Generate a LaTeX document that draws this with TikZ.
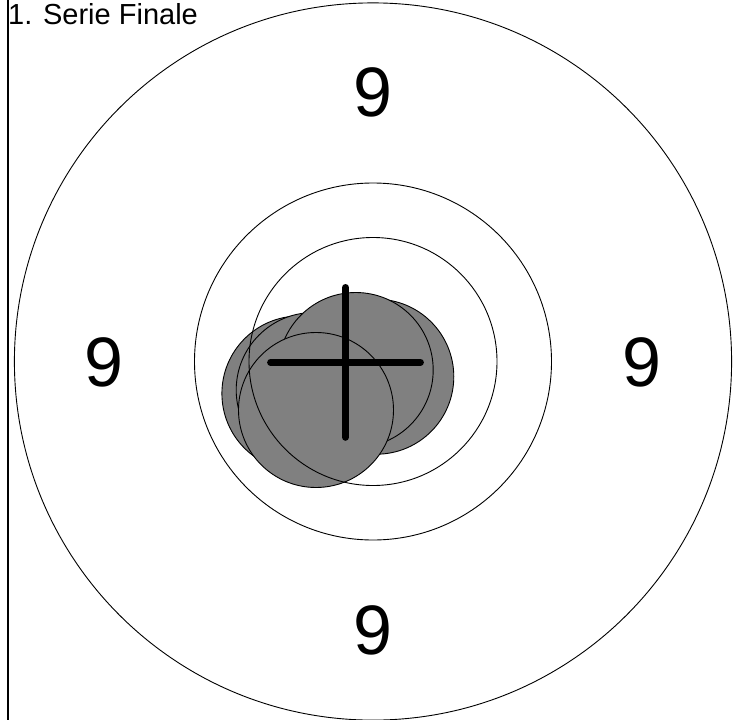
\documentclass[tikz,border=0pt]{standalone}
\usepackage{fontspec}
\setmainfont{Liberation Sans}
\definecolor{shotgray}{HTML}{808080}
\begin{document}
\begin{tikzpicture}[x=1pt,y=-1pt,
  ringline/.style={draw=black,line width=0.9pt},
  shot/.style={fill=shotgray,draw=black,line width=0.9pt},
  ninelbl/.style={font=\fontsize{70}{70}\selectfont,inner sep=0pt},
  titlelbl/.style={font=\fontsize{29}{29}\selectfont,inner sep=0pt,anchor=base west},
  crossbar/.style={line width=6.8pt,line cap=round},
  edgeline/.style={line width=1.3pt}]
\useasboundingbox (0,0) rectangle (734,720);
% target centre
\coordinate (ctr) at (373,361.5);
% shots (in order of drawing)
\coordinate (s4) at (299.4,393.5);
\coordinate (s5) at (313.7,390);
\coordinate (s3) at (376.3,376.7);
\coordinate (s2) at (355.7,370);
\coordinate (s1) at (316,410);
\foreach \s in {s4,s5,s3,s2,s1} {\filldraw[shot] (\s) circle[radius=77.5];}
% rings
\draw[ringline] (ctr) circle[radius=358.6];
\draw[ringline] (ctr) circle[radius=178.5];
\draw[ringline] (ctr) circle[radius=124];
% ring numbers
\node[ninelbl] (ntop) at (373,92.5) {9};
\node[ninelbl] (nleft) at (104,362) {9};
\node[ninelbl] (nright) at (642,362) {9};
\node[ninelbl] (nbottom) at (373,630.5) {9};
% group centre cross
\coordinate (cx) at (345.5,362.4);
\coordinate (cxl) at (270.5,362.4);
\coordinate (cxr) at (420.5,362.4);
\coordinate (cxt) at (345.5,287.4);
\coordinate (cxb) at (345.5,437.4);
\draw[crossbar] (cxl) -- (cxr);
\draw[crossbar] (cxt) -- (cxb);
% left edge line
\coordinate (et) at (8,0);
\coordinate (eb) at (8,720);
\draw[edgeline] (et) -- (eb);
% title
\node[titlelbl] (title) at (8,24) {1. Serie Finale};
\end{tikzpicture}
\end{document}
